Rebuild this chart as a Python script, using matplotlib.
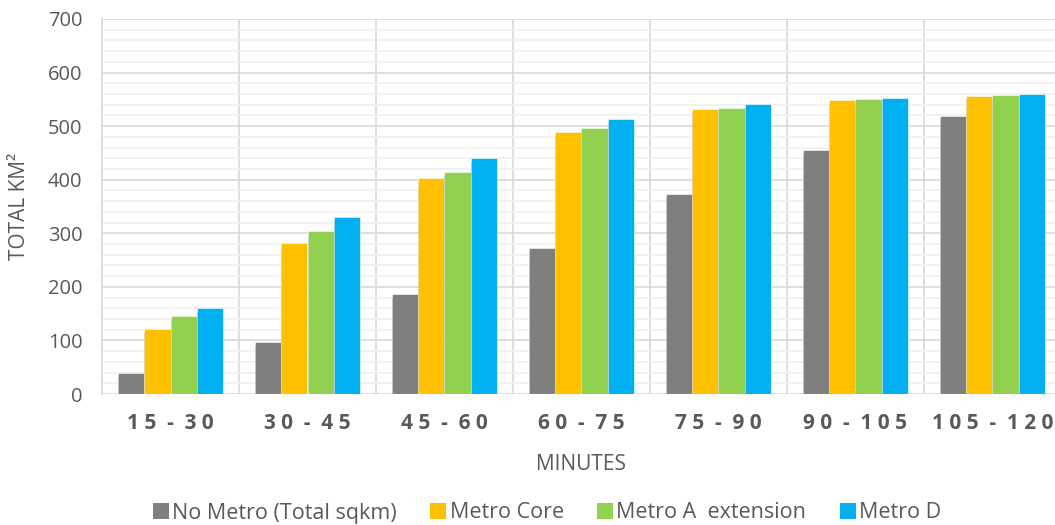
import matplotlib
matplotlib.use('Agg')
import numpy as np
import matplotlib.pyplot as plt
import matplotlib.patheffects as pe
from matplotlib.patches import Patch

plt.rcParams['font.family'] = ['Open Sans', 'DejaVu Sans']

categories = ['1 5  -  3 0', '3 0  -  4 5', '4 5  -  6 0', '6 0  -  7 5',
              '7 5  -  9 0', '9 0  -  1 0 5', '1 0 5  -  1 2 0']
series_names = ['No Metro (Total sqkm)', 'Metro Core', 'Metro A  extension', 'Metro D']
no_metro = [40, 97, 186, 273, 373, 455, 519]
metro_core = [121, 281, 403, 489, 532, 549, 556]
metro_a = [145, 304, 414, 497, 534, 550, 558]
metro_d = [160, 330, 440, 513, 541, 553, 560]
colors = ['#7f7f7f', '#ffc000', '#92d050', '#00b0f0']

txt = '#595959'
fig = plt.figure(figsize=(10.55, 5.25), dpi=100)
ax = fig.add_axes([102/1055, 1-394/525, 959/1055, 375/525])

x = np.arange(len(categories))
w = 0.19
for i, (vals, c) in enumerate(zip([no_metro, metro_core, metro_a, metro_d], colors)):
    bars = ax.bar(x + (i - 1.5) * w, vals, w, color=c,
                  edgecolor='white', linewidth=0.4, zorder=3)
    for b in bars:
        b.set_path_effects([pe.SimplePatchShadow(offset=(0, -2.5), alpha=0.6), pe.Normal()])

ax.set_xlim(-0.5, len(categories) - 0.5)
ax.set_ylim(0, 700)
ax.set_yticks(np.arange(0, 701, 100))
ax.set_yticks(np.arange(0, 701, 20), minor=True)
ax.grid(axis='y', which='major', color='#d9d9d9', linewidth=1.2, zorder=0)
ax.grid(axis='y', which='minor', color='#f0f0f0', linewidth=1.2, zorder=0)
for b in np.arange(0.5, len(categories) - 0.5, 1):
    ax.axvline(b, color='#d9d9d9', linewidth=1.2, zorder=1)
for s in ['top', 'right', 'bottom']:
    ax.spines[s].set_visible(False)
ax.spines['left'].set_color('#d9d9d9')
ax.spines['left'].set_linewidth(1.2)

ax.set_xticks(x)
ax.set_xticklabels(categories, fontsize=15, fontweight='bold', color=txt)
ax.tick_params(axis='x', length=0, pad=14)
ax.tick_params(axis='y', which='both', length=0, labelsize=14.5, colors=txt, pad=14)

fig.text(20/1055, 1-206/525, 'TOTAL KM²', rotation=90, ha='center', va='center',
         fontsize=15, color=txt)
fig.text(581/1055, 1-465/525, 'MINUTES', ha='center', va='center', fontsize=15, color=txt)

handles = [Patch(facecolor=c, edgecolor='none') for c in colors]
fig.legend(handles, series_names, loc='center', bbox_to_anchor=(547/1055, 1-513/525), ncol=4,
           frameon=False, fontsize=15.5, handlelength=0.75, handleheight=0.75,
           handletextpad=0.15, columnspacing=1.55, labelcolor=txt)

fig.savefig('out.png', dpi=100)
